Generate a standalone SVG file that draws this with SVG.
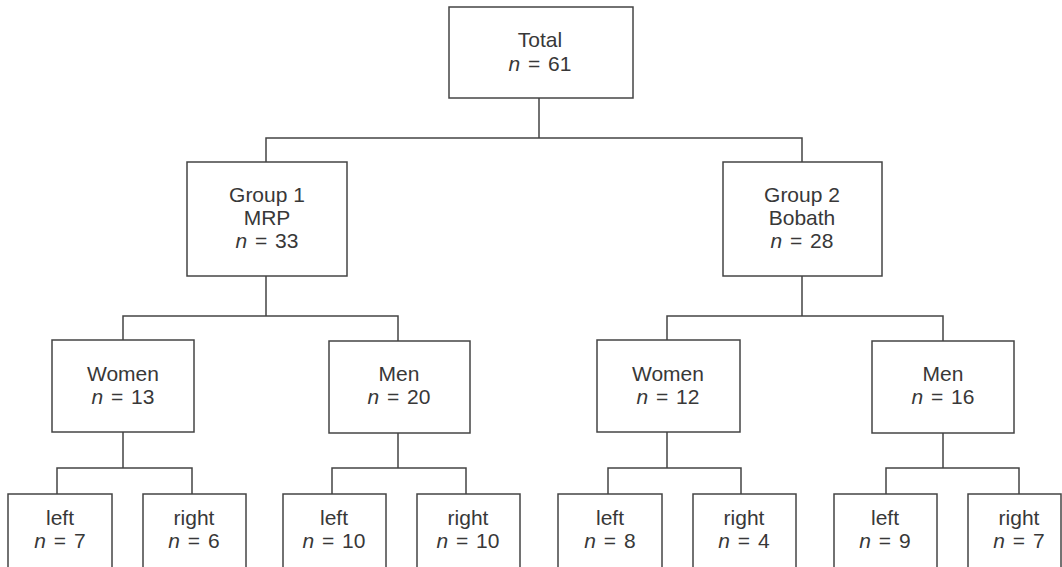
<svg xmlns="http://www.w3.org/2000/svg" width="1062" height="567" viewBox="0 0 1062 567">
<style>
rect{fill:#fff;stroke:#444;stroke-width:1.5}
.c{fill:none;stroke:#444;stroke-width:1.5}
text{font-family:"Liberation Sans",Arial,sans-serif;font-size:21px;fill:#383838;text-anchor:middle}
.n{word-spacing:2px}
.i{font-style:italic}
</style>
<rect x="0" y="0" width="1062" height="567" style="stroke:none"/>
<g id="connectors">
<path class="c" d="M539,98V138M266,162V138H802V162"/>
<path class="c" d="M266,276V316M123,340V316H398V341"/>
<path class="c" d="M802,276V316M667,340V316H943V341"/>
<path class="c" d="M123,432V468M57,494V468H192V494"/>
<path class="c" d="M398,433V468M332,494V468H466V494"/>
<path class="c" d="M667,432V468M608,494V468H741V494"/>
<path class="c" d="M943,433V468M886,494V468H1019V494"/>
</g>
<g id="total"><rect x="449" y="7" width="184" height="91"/><text x="540" y="47">Total</text><text class="n" x="540" y="71"><tspan class="i">n</tspan> = 61</text></g>
<g id="group1"><rect x="187" y="162" width="160" height="114"/><text x="267" y="202">Group 1</text><text x="267" y="225">MRP</text><text class="n" x="267" y="248"><tspan class="i">n</tspan> = 33</text></g>
<g id="group2"><rect x="723" y="162" width="159" height="114"/><text x="802" y="202">Group 2</text><text x="802" y="225">Bobath</text><text class="n" x="802" y="248"><tspan class="i">n</tspan> = 28</text></g>
<g id="women1"><rect x="52" y="340" width="142" height="92"/><text x="123" y="381">Women</text><text class="n" x="123" y="404"><tspan class="i">n</tspan> = 13</text></g>
<g id="men1"><rect x="329" y="341" width="141" height="92"/><text x="399" y="381">Men</text><text class="n" x="399" y="404"><tspan class="i">n</tspan> = 20</text></g>
<g id="women2"><rect x="597" y="340" width="143" height="92"/><text x="668" y="381">Women</text><text class="n" x="668" y="404"><tspan class="i">n</tspan> = 12</text></g>
<g id="men2"><rect x="872" y="341" width="142" height="92"/><text x="943" y="381">Men</text><text class="n" x="943" y="404"><tspan class="i">n</tspan> = 16</text></g>
<g id="leaf1"><rect x="8" y="494" width="104" height="80"/><text x="60" y="525">left</text><text class="n" x="60" y="548"><tspan class="i">n</tspan> = 7</text></g>
<g id="leaf2"><rect x="143" y="494" width="103" height="80"/><text x="194" y="525">right</text><text class="n" x="194" y="548"><tspan class="i">n</tspan> = 6</text></g>
<g id="leaf3"><rect x="283" y="494" width="103" height="80"/><text x="334" y="525">left</text><text class="n" x="334" y="548"><tspan class="i">n</tspan> = 10</text></g>
<g id="leaf4"><rect x="417" y="494" width="103" height="80"/><text x="468" y="525">right</text><text class="n" x="468" y="548"><tspan class="i">n</tspan> = 10</text></g>
<g id="leaf5"><rect x="558" y="494" width="104" height="80"/><text x="610" y="525">left</text><text class="n" x="610" y="548"><tspan class="i">n</tspan> = 8</text></g>
<g id="leaf6"><rect x="693" y="494" width="103" height="80"/><text x="744" y="525">right</text><text class="n" x="744" y="548"><tspan class="i">n</tspan> = 4</text></g>
<g id="leaf7"><rect x="834" y="494" width="103" height="80"/><text x="885" y="525">left</text><text class="n" x="885" y="548"><tspan class="i">n</tspan> = 9</text></g>
<g id="leaf8"><rect x="968" y="494" width="93" height="80"/><text x="1019" y="525">right</text><text class="n" x="1019" y="548"><tspan class="i">n</tspan> = 7</text></g>
</svg>
